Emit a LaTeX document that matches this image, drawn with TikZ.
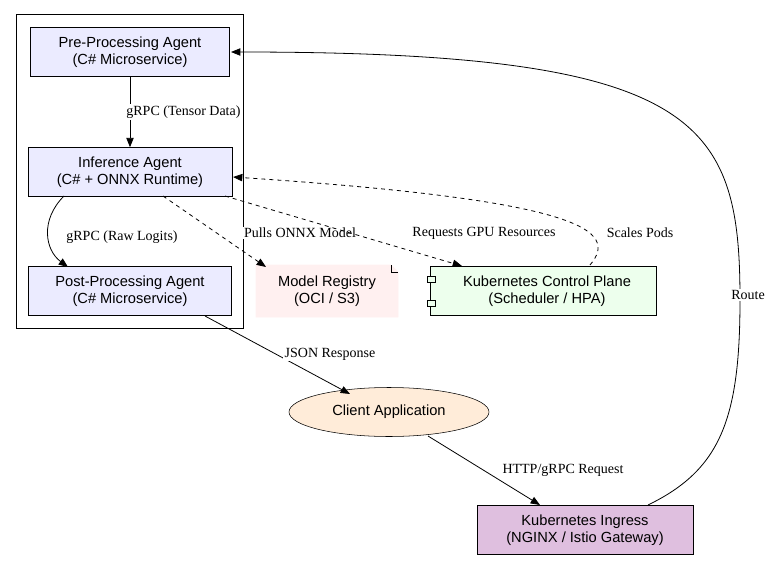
\documentclass[tikz,border=0pt]{standalone}
\usepackage{fontspec}
\setmainfont{Liberation Serif}
\newfontfamily\sansf{Liberation Sans}
\usetikzlibrary{shapes.geometric,arrows.meta}
\begin{document}
\begin{tikzpicture}[x=0.75pt,y=-0.75pt,
 box/.style={draw,rectangle,minimum width=#1*0.75pt,minimum height=49*0.75pt,align=center,font=\sansf\fontsize{11}{12.5}\selectfont,inner sep=1pt},
 edge/.style={-{Triangle[length=7pt,width=5.5pt]},line width=0.6pt},
 lab/.style={font=\fontsize{10.5}{12}\selectfont,fill=white,inner sep=1pt}]
\useasboundingbox (0,0) rectangle (774,563);
\draw[line width=0.6pt] (16,14) rectangle (243,328);
\node[box=199,fill=blue!8] (pre) at (130,52) {Pre-Processing Agent\\(C\# Microservice)};
\node[box=204,fill=blue!8] (inf) at (130,172) {Inference Agent\\(C\# + ONNX Runtime)};
\node[box=203,fill=blue!8] (post) at (130,291) {Post-Processing Agent\\(C\# Microservice)};
\node[box=142,draw=none] (reg) at (327,291) {Model Registry\\(OCI / S3)};
\fill[red!6,draw,line width=0.6pt] (256,265) -- (391,265) -- (398,272) -- (398,317) -- (256,317) -- cycle;
\draw[line width=0.6pt] (391,265) -- (391,272) -- (398,272);
\node[box=142,draw=none] at (327,291) {Model Registry\\(OCI / S3)};
\node[box=226,fill=green!7] (k8s) at (543,291) {\hspace{6pt}Kubernetes Control Plane\\\hspace{6pt}(Scheduler / HPA)};
\draw[fill=green!7,line width=0.6pt] (427,276) rectangle (435,282) (427,300) rectangle (435,306);
\node[draw,ellipse,fill=orange!15,minimum width=200*0.75pt,minimum height=49*0.75pt,font=\sansf\fontsize{11}{12.5}\selectfont,inner sep=0pt] (cli) at (389,412) {Client Application};
\node[box=216,fill=violet!25] (ing) at (585,530) {Kubernetes Ingress\\(NGINX / Istio Gateway)};
\draw[edge] (pre) -- node[lab,pos=0.5,anchor=west,xshift=-4pt] {gRPC (Tensor Data)} (inf);
\draw[edge] (64,196) .. controls (40,220) and (45,250) .. (68,267);
\node[lab] at (122,237) {gRPC (Raw Logits)};
\draw[edge,dashed] (163,196) -- (266,267);
\node[lab] at (300,233) {Pulls ONNX Model};
\draw[edge,dashed] (225,196) -- (462,266);
\node[lab] at (484,233) {Requests GPU Resources};
\draw[edge,dashed] (590,265) .. controls (620,230) and (580,200) .. (233,177);
\node[lab] at (640,233) {Scales Pods};
\draw[edge] (205,316) -- (350,394);
\node[lab] at (330,354) {JSON Response};
\draw[edge] (428,436) -- (540,505);
\node[lab] at (563,470) {HTTP/gRPC Request};
\draw[edge] (648,505) .. controls (720,470) and (740,420) .. (740,300) .. controls (740,120) and (700,52) .. (231,52);
\node[lab] at (748,295) {Route};
\end{tikzpicture}
\end{document}
